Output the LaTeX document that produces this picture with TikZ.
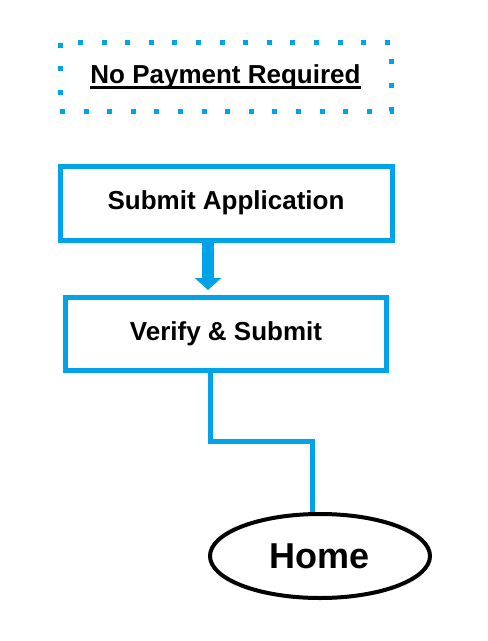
\documentclass[tikz,border=0pt]{standalone}
\usepackage{fontspec}
\setmainfont{Liberation Sans}
\usepackage{tikz}
\usetikzlibrary{positioning,shapes.geometric,arrows.meta}
\definecolor{appblue}{RGB}{0,162,232}
\newcommand{\thickul}[1]{\leavevmode\setbox0=\hbox{#1}\rlap{\rule[-5.5pt]{\wd0}{2.5pt}}\box0}

\begin{document}
\begin{tikzpicture}
  [x=1pt,y=-1pt,
   every node/.style={font=\bfseries\fontsize{26}{30}\selectfont,text=black},
   stepbox/.style={rectangle,draw=appblue,line width=5pt,fill=white},
   notebox/.style={rectangle,draw=appblue,line width=5pt,dash pattern=on 5pt off 18.6pt},
   homebox/.style={ellipse,draw=black,line width=4pt,minimum width=220pt,minimum height=84pt,
     font=\bfseries\fontsize{36}{40}\selectfont},
   link/.style={draw=appblue,line width=5pt}]
  \useasboundingbox (0,0) rectangle (488,641);
  \node[notebox,minimum width=331pt,minimum height=69pt] (note) at (225.5,76.5) {\thickul{No Payment Required}};
  \node[stepbox,minimum width=332pt,minimum height=74pt] (apply) at (226,203) {Submit Application};
  \node[stepbox,minimum width=321pt,minimum height=73pt] (verify) at (226,334) {Verify \& Submit};
  \node[homebox] (home) at (320,556) {Home};
  \coordinate (bend) at (312,441);

  \draw[link,line width=12pt,-{Triangle[width=26pt,length=12pt]},shorten >=5pt] ([xshift=-18pt]apply.south) -- ([xshift=-18pt]verify.north);
  \draw[link] ([xshift=-16pt]verify.south) |- (bend) -- (bend |- home.north);
\end{tikzpicture}
\end{document}
